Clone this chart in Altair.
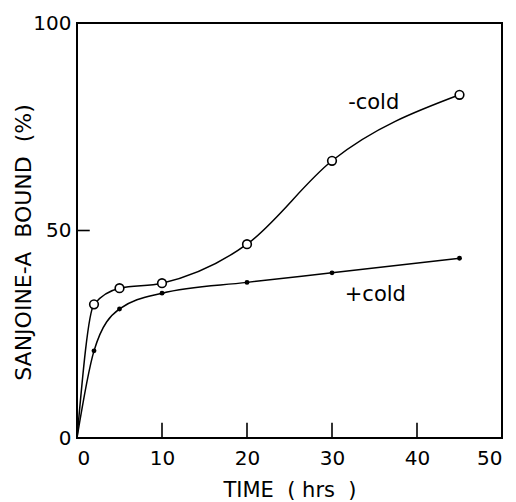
import altair as alt
import pandas as pd

# ---- data ----
time_minus = [0, 2, 5, 10, 20, 30, 45]
bound_minus = [0, 32.2, 36.1, 37.3, 46.7, 66.8, 82.7]
time_plus = [0, 2, 5, 10, 20, 30, 45]
bound_plus = [0, 21.0, 31.1, 34.9, 37.5, 39.8, 43.3]

x_tick_values = [0, 10, 20, 30, 40, 50]
y_tick_values = [0, 50, 100]

# inward tick segments (start/end in data units)
tick_x1 = [10, 20, 30, 40, 0]
tick_x2 = [10, 20, 30, 40, 1.5]
tick_y1 = [0, 0, 0, 0, 50]
tick_y2 = [3.7, 3.7, 3.7, 3.7, 50]

label_text = ["-cold", "+cold"]
label_x = [31.9, 31.5]
label_y = [80.7, 34.5]

FONT = "DejaVu Sans"
W, H = 425, 415

lines_df = pd.DataFrame(
    {"x": time_minus + time_plus,
     "y": bound_minus + bound_plus,
     "s": ["minus"] * len(time_minus) + ["plus"] * len(time_plus)}
)
open_df = pd.DataFrame({"x": time_minus[1:], "y": bound_minus[1:]})
fill_df = pd.DataFrame({"x": time_plus[1:], "y": bound_plus[1:]})
tick_df = pd.DataFrame({"x": [float(v) for v in tick_x1],
                        "x2": [float(v) for v in tick_x2],
                        "y": [float(v) for v in tick_y1],
                        "y2": [float(v) for v in tick_y2]})
lab_df = pd.DataFrame({"x": label_x, "y": label_y, "t": label_text})

xscale = alt.Scale(domain=[0, 50], nice=False, zero=False)
yscale = alt.Scale(domain=[0, 100], nice=False, zero=False)

xaxis = alt.Axis(
    values=x_tick_values, ticks=False, tickSize=0, domain=False, grid=False,
    labelFont=FONT, labelFontSize=20, labelColor="black", labelPadding=10,
    title="TIME\u00a0\u00a0(\u00a0hrs\u00a0\u00a0)", titleFont=FONT, titleFontSize=21,
    titleFontWeight="normal", titleColor="black",
    titleY=52, titleBaseline="middle",
)
yaxis = alt.Axis(
    values=y_tick_values, ticks=False, tickSize=0, domain=False, grid=False,
    labelFont=FONT, labelFontSize=20, labelColor="black", labelPadding=6,
    title="SANJOINE-A\u00a0\u00a0BOUND\u00a0\u00a0(%)", titleFont=FONT, titleFontSize=22,
    titleFontWeight="normal", titleColor="black",
    titleX=-54, titleY=219, titleBaseline="middle",
)


def X(field="x"):
    return alt.X(f"{field}:Q", scale=xscale, axis=xaxis)


def Y(field="y"):
    return alt.Y(f"{field}:Q", scale=yscale, axis=yaxis)


lines = alt.Chart(lines_df).mark_line(
    interpolate="monotone", color="black", strokeWidth=1.5
).encode(x=X(), y=Y(), detail="s:N")

open_pts = alt.Chart(open_df).mark_point(
    shape="circle", filled=True, fill="white", stroke="black",
    strokeWidth=1.6, size=75, opacity=1
).encode(x=X(), y=Y())

fill_pts = alt.Chart(fill_df).mark_circle(
    size=24, color="black", opacity=1
).encode(x=X(), y=Y())

ticks = alt.Chart(tick_df).mark_rule(color="black", strokeWidth=1.6).encode(
    x=X(), x2=alt.X2("x2:Q"), y=Y(), y2=alt.Y2("y2:Q")
)

labels = alt.Chart(lab_df).mark_text(
    font=FONT, fontSize=21, color="black", align="left", baseline="middle"
).encode(x=X(), y=Y(), text="t:N")

chart = alt.layer(lines, ticks, open_pts, fill_pts, labels).properties(
    width=W, height=H,
    autosize=alt.AutoSizeParams(type="none"),
    padding={"left": 69, "top": 15, "right": 6, "bottom": 64},
    background="white",
).configure_view(stroke="black", strokeWidth=2)

chart.save("out.html", embed_options={"renderer": "svg", "actions": False})
